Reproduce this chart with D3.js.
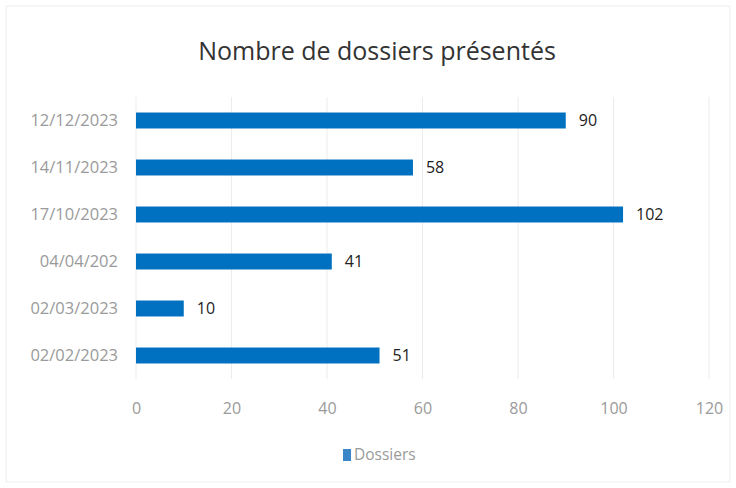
<!DOCTYPE html>
<html><head><meta charset="utf-8">
<script src="https://cdn.jsdelivr.net/npm/d3@7"></script>
<style>body{margin:0;background:#fff;}svg{display:block;font-family:"Open Sans",sans-serif;}</style>
</head><body><svg id="c" width="736" height="488"></svg>
<script>
const categories = ["12/12/2023","14/11/2023","17/10/2023","04/04/202","02/03/2023","02/02/2023"];
const values = [90,58,102,41,10,51];
const xTicks = [0,20,40,60,80,100,120];
const seriesName = "Dossiers";
const title = "Nombre de dossiers présentés";

const svg = d3.select("#c");
svg.append("rect").attr("x",6).attr("y",6).attr("width",724).attr("height",476)
  .attr("fill","#fff").attr("stroke","#eeeeee");
const m = {left:136, right:709, top:97, bottom:379};
const x = d3.scaleLinear().domain([0,120]).range([m.left,m.right]);
const y = d3.scaleBand().domain(categories).range([m.top,m.bottom]).paddingInner(0.66).paddingOuter(0.33);

svg.append("g").selectAll("line").data(xTicks).join("line")
  .attr("x1",d=>x(d)).attr("x2",d=>x(d)).attr("y1",m.top).attr("y2",m.bottom)
  .attr("stroke","#ececec").attr("stroke-width",1);

svg.append("text").attr("x",377).attr("y",60).attr("text-anchor","middle")
  .attr("font-size",25).attr("fill","#333").text(title);

svg.append("g").selectAll("rect").data(values).join("rect")
  .attr("x",x(0)).attr("y",(d,i)=>y(categories[i]))
  .attr("width",d=>x(d)-x(0)).attr("height",y.bandwidth())
  .attr("fill","#0070c0");

svg.append("g").selectAll("text").data(values).join("text")
  .attr("x",d=>x(d)+13).attr("y",(d,i)=>y(categories[i])+y.bandwidth()/2)
  .attr("dy","0.35em").attr("font-size",16).attr("fill","#222").text(d=>d);

const ya = d3.axisLeft(y).tickSize(0).tickPadding(18);
const gy = svg.append("g").attr("transform",`translate(${m.left},0)`).call(ya);
gy.select(".domain").remove();
gy.selectAll("text").attr("font-size",16.5).attr("fill","#9a9a9a").attr("font-family","Open Sans");

const xa = d3.axisBottom(x).tickValues(xTicks).tickSize(0).tickPadding(24);
const gx = svg.append("g").attr("transform",`translate(0,${m.bottom})`).call(xa);
gx.select(".domain").remove();
gx.selectAll("text").attr("font-size",16).attr("fill","#9a9a9a").attr("font-family","Open Sans");

const lg = svg.append("g").attr("transform","translate(343,455)");
lg.append("rect").attr("x",0).attr("y",-6).attr("width",8).attr("height",12).attr("fill","#3a86c8");
lg.append("text").attr("x",11).attr("y",0).attr("dy","0.35em").attr("font-size",15.5).attr("fill","#9a9a9a").text(seriesName);
</script></body></html>
